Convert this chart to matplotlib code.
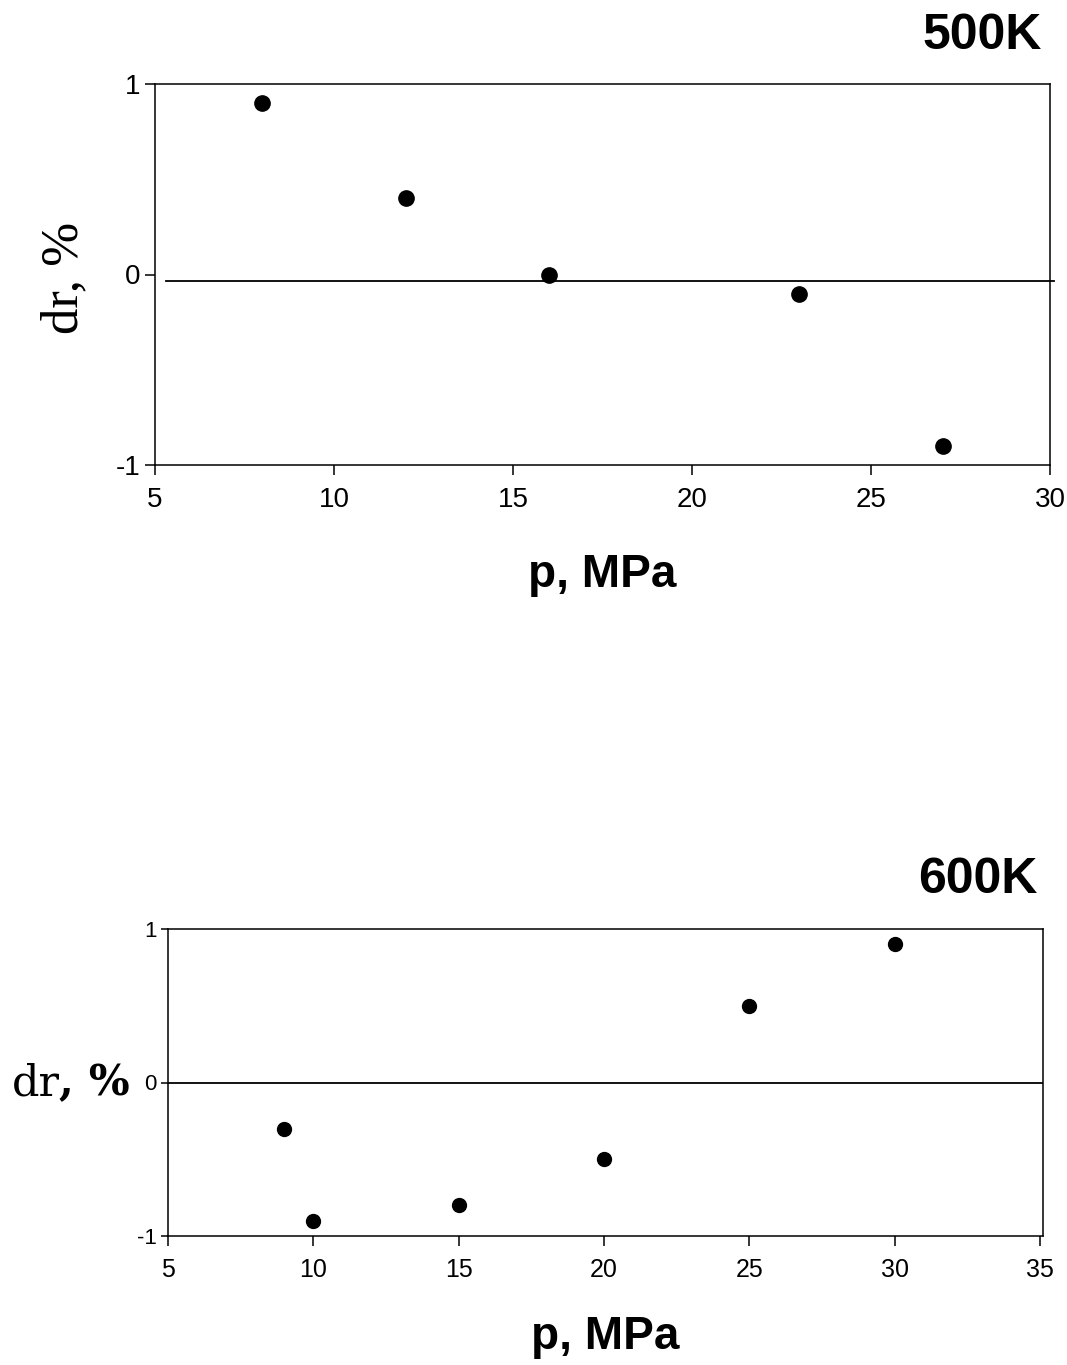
import matplotlib.pyplot as plt
import numpy as np

# Deviation data
p_500 = [8, 12, 16, 23, 27]
dr_500 = [0.9, 0.4, 0.0, -0.1, -0.9]
ref_500_p = [5.3, 30.1]
ref_500_dr = [-0.035, -0.035]

p_600 = [9, 10, 15, 20, 25, 30]
dr_600 = [-0.3, -0.9, -0.8, -0.5, 0.5, 0.9]

W, H = 1067, 1365
fig = plt.figure(figsize=(W / 100, H / 100), dpi=100)
plt.rcParams['font.family'] = 'Liberation Sans'
plt.rcParams['axes.unicode_minus'] = False


def fx(px):
    return px / W


def fy(py):
    return 1 - py / H


def style_axes(ax, tick_size):
    for s in ax.spines.values():
        s.set_linewidth(1.1)
        s.set_color('black')
    ax.tick_params(direction='out', length=7, width=1.1, labelsize=tick_size,
                   top=False, right=False)
    ax.set_ylim(-1, 1)
    ax.set_yticks([-1, 0, 1])


# Top panel: 500K
ax1 = fig.add_axes([fx(155), fy(465), fx(1050 - 155), (465 - 84) / H])
ax1.plot(p_500, dr_500, 'o', color='black', markersize=11)
ax1.plot(ref_500_p, ref_500_dr, color='black', linewidth=1.3, clip_on=False)
ax1.set_xlim(5, 30)
ax1.set_xticks(np.arange(5, 31, 5))
style_axes(ax1, 20)
ax1.tick_params(axis='x', pad=9)

fig.text(fx(1042), fy(36), '500K', ha='right', va='center',
         fontsize=36, fontweight='bold')
fig.text(fx(602), fy(575), 'p, MPa', ha='center', va='center',
         fontsize=33, fontweight='bold')
fig.text(fx(64), fy(278), 'dr, %', ha='center', va='center', rotation=90,
         fontsize=38, family='Liberation Serif')

# Bottom panel: 600K
ax2 = fig.add_axes([fx(168), fy(1236), fx(1043 - 168), (1236 - 929) / H])
ax2.plot(p_600, dr_600, 'o', color='black', markersize=10)
ax2.axhline(0, color='black', linewidth=1.3)
ax2.set_xlim(5, 35.1)
ax2.set_xticks(np.arange(5, 36, 5))
style_axes(ax2, 18)
ax2.tick_params(axis='y', labelsize=16, pad=3, length=5)
ax2.tick_params(axis='x', pad=9)

fig.text(fx(1037), fy(880), '600K', ha='right', va='center',
         fontsize=36, fontweight='bold')
fig.text(fx(605), fy(1337), 'p, MPa', ha='center', va='center',
         fontsize=33, fontweight='bold')
fig.text(fx(12), fy(1083), 'dr', ha='left', va='center',
         fontsize=31, family='DejaVu Serif')
fig.text(fx(130), fy(1083), ', %', ha='right', va='center',
         fontsize=31, family='DejaVu Serif', fontweight='bold')

fig.savefig('out.png', dpi=100, facecolor='white')
